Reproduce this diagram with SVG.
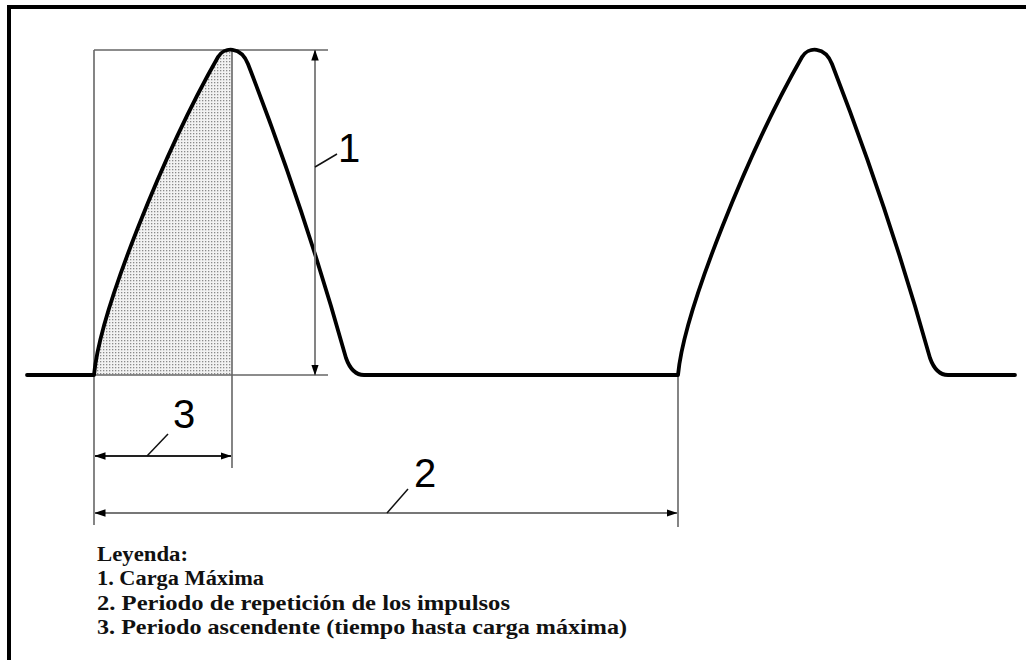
<svg xmlns="http://www.w3.org/2000/svg" width="1026" height="660" viewBox="0 0 1026 660">
  <style>
    .thick{fill:none;stroke:#000;stroke-width:3.8;stroke-linecap:round;stroke-linejoin:round}
    .thin{fill:none;stroke:#666;stroke-width:1.6}
    .dim{fill:none;stroke:#777;stroke-width:1.8}
    .lead{fill:none;stroke:#111;stroke-width:1.5}
    .num{font-family:"Liberation Sans",Arial,sans-serif;font-size:40px;fill:#000;text-anchor:middle}
    .leg{font-family:"Liberation Serif","Times New Roman",serif;font-size:20px;font-weight:bold;fill:#111}
  </style>
  <defs>
    <marker id="ah" markerWidth="11" markerHeight="8" refX="10.5" refY="3.75" orient="auto-start-reverse" markerUnits="userSpaceOnUse">
      <path d="M0,0 L11,3.75 L0,7.5 z" fill="#000"/>
    </marker>
    <pattern id="dots" width="3" height="3" patternUnits="userSpaceOnUse">
      <rect width="3" height="3" fill="#f2f2f2"/>
      <rect x="1" y="1" width="1.3" height="1.3" fill="#8a8a8a"/>
    </pattern>
  </defs>
  <rect width="1026" height="660" fill="#fff"/>
  <path d="M9,660 V7 H1026" fill="none" stroke="#000" stroke-width="4"/>

  <g id="shade">
    <path d="M94,375 C100,310 165,150 218,57 Q225,47 232,49 V375 Z" fill="url(#dots)"/>
  </g>

  <g id="guides">
    <path class="thin" d="M94,50 V525"/>
    <path class="thin" d="M94,50 H328"/>
    <path class="thin" d="M94,375 H328"/>
    <path class="thin" d="M232,50 V468"/>
    <path class="thin" d="M678,375 V527"/>
  </g>

  <g id="signal">
    <path class="thick" d="M27,375 H94 C100,310 165,150 218,57 C224,46.5 241,46 248,64 Q305,211 346,358 Q352,375 364,375 H678 C684,310 749,150 802,57 C808,46.5 825,46 832,64 Q889,211 930,358 Q936,375 948,375 H1015"/>
  </g>

  <g id="connectors">
    <path class="dim" d="M315,50 V375" marker-start="url(#ah)" marker-end="url(#ah)"/>
    <path class="dim" d="M95,456 H231" marker-start="url(#ah)" marker-end="url(#ah)" style="stroke:#222"/>
    <path class="dim" d="M95,513 H677" marker-start="url(#ah)" marker-end="url(#ah)"/>
    <path class="lead" d="M315,167 L337,154"/>
    <path class="lead" d="M147,456 L168,434"/>
    <path class="lead" d="M387,513 L408,489"/>
  </g>

  <g id="label1"><text class="num" x="349" y="162">1</text></g>
  <g id="label3"><text class="num" x="184" y="428">3</text></g>
  <g id="label2"><text class="num" x="425" y="487">2</text></g>

  <g id="legend">
    <text class="leg" x="97" y="561" textLength="91" lengthAdjust="spacingAndGlyphs">Leyenda:</text>
    <text class="leg" x="97" y="585" textLength="167" lengthAdjust="spacingAndGlyphs">1. Carga Máxima</text>
    <text class="leg" x="97" y="610" textLength="413" lengthAdjust="spacingAndGlyphs">2. Periodo de repetición de los impulsos</text>
    <text class="leg" x="97" y="634" textLength="530" lengthAdjust="spacingAndGlyphs">3. Periodo ascendente (tiempo hasta carga máxima)</text>
  </g>
</svg>
